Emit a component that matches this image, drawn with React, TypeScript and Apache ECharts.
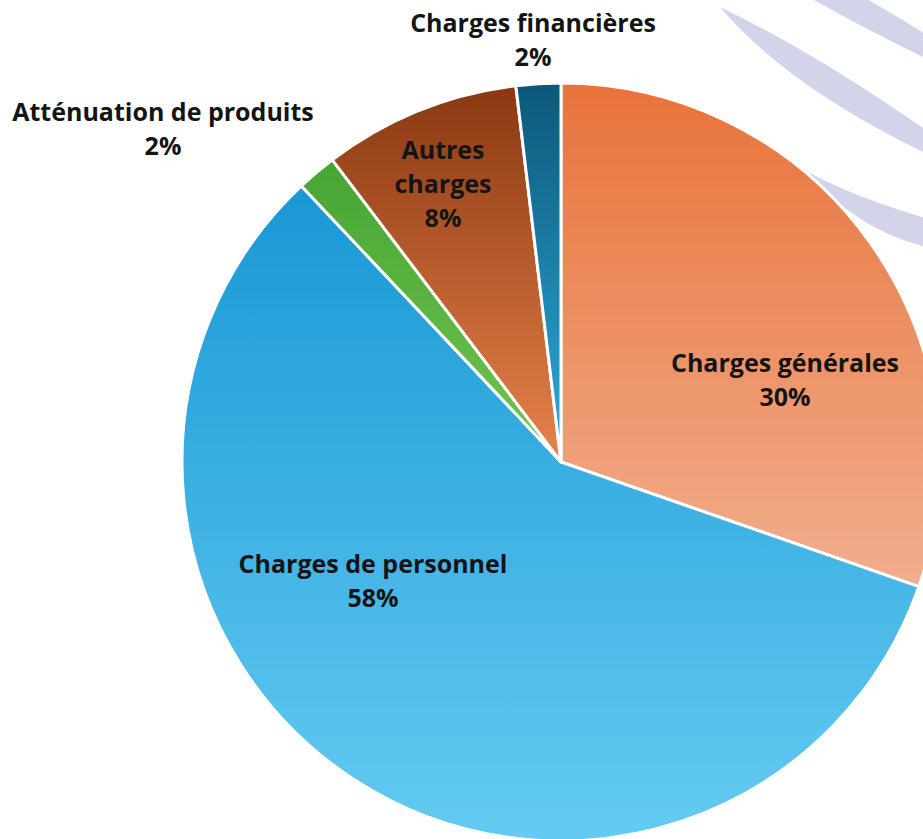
import React, { useEffect, useRef } from "react";
import * as echarts from "echarts";

// ---- Data ----
const categories = [
  "Charges générales",
  "Charges de personnel",
  "Atténuation de produits",
  "Autres charges",
  "Charges financières",
];
const labelTexts = [
  "Charges générales",
  "Charges de personnel",
  "Atténuation de produits",
  "Autres\ncharges",
  "Charges financières",
];
const values = [30.3, 57.6, 1.7, 8.4, 1.9];

// ---- Styles ----
const gradients: [string, string][] = [
  ["#E8733A", "#F2AE8E"],
  ["#1898D4", "#64CBF3"],
  ["#47A533", "#72C452"],
  ["#8A3812", "#E8834A"],
  ["#0C5878", "#2EABDC"],
];
// label centres (layout only)
const labelCenters: [number, number][] = [
  [785, 379],
  [373, 580],
  [163, 128],
  [443, 183],
  [533, 39],
];

// decorative background strokes (SVG paths)
const stripePaths = [
  "M720 7 Q820 55 940 140 L940 160 Q790 90 720 7 Z",
  "M805 -5 L860 -5 Q900 18 940 43 L940 65 Q870 32 805 -5 Z",
  "M808 172 Q860 200 940 222 L940 250 Q860 235 808 172 Z",
];

let registered = false;
function registerStripes() {
  if (registered) return;
  stripePaths.forEach((d, i) => {
    echarts.graphic.registerShape("stripe" + i, echarts.graphic.extendPath(d, {}));
  });
  registered = true;
}

export default function App() {
  const ref = useRef<HTMLDivElement>(null);
  useEffect(() => {
    if (!ref.current) return;
    registerStripes();
    const chart = echarts.init(ref.current, undefined, { renderer: "svg" });
    const lavender = "#D2D4EA";
    chart.setOption({
      animation: false,
      backgroundColor: "#ffffff",
      graphic: stripePaths.map((_, i) => ({
        type: "stripe" + i,
        z: 0,
        x: 0,
        y: 0,
        style: { fill: lavender },
      })),
      series: [
        {
          type: "pie",
          z: 5,
          center: [561, 462],
          radius: 379,
          startAngle: 90,
          clockwise: true,
          avoidLabelOverlap: false,
          itemStyle: { borderColor: "#ffffff", borderWidth: 3 },
          label: {
            show: true,
            position: "inside",
            fontFamily: "Open Sans",
            fontWeight: "bold",
            fontSize: 25,
            lineHeight: 34,
            color: "#141414",
            align: "center",
            formatter: (p: any) => `${labelTexts[p.dataIndex]}\n${Math.round(p.percent)}%`,
          },
          labelLine: { show: false },
          labelLayout: (p: any) => {
            const c = labelCenters[p.dataIndex];
            return { x: c[0], y: c[1], align: "center", verticalAlign: "middle" };
          },
          emphasis: { disabled: true },
          data: categories.map((name, i) => ({
            name,
            value: values[i],
            itemStyle: {
              color: new echarts.graphic.LinearGradient(0, 0, 0, 1, [
                { offset: 0, color: gradients[i][0] },
                { offset: 1, color: gradients[i][1] },
              ]),
            },
          })),
        },
      ],
    });
    return () => chart.dispose();
  }, []);
  return (
    <div
      ref={ref}
      style={{ position: "absolute", left: 0, top: 0, width: 923, height: 839 }}
    />
  );
}
